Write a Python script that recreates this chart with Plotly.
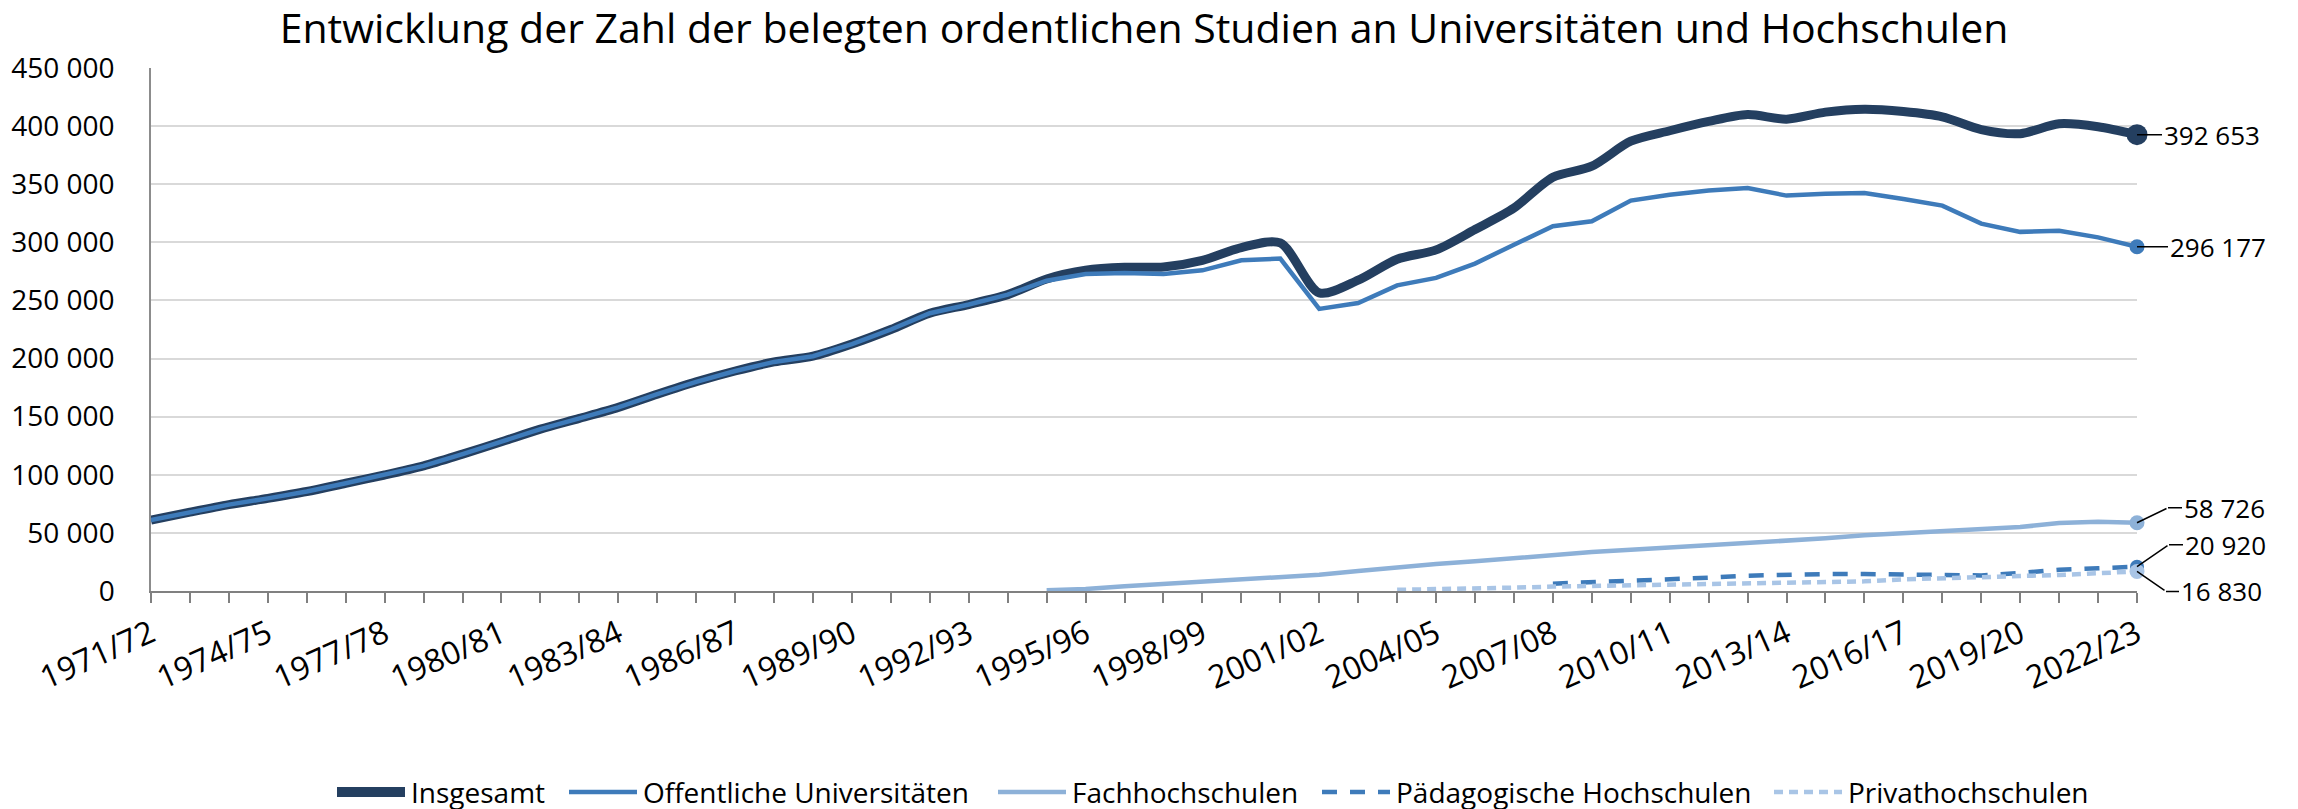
import plotly.graph_objects as go

# Studienjahre (Kategorien der x-Achse)
studienjahre = [
    "1971/72", "1972/73", "1973/74", "1974/75", "1975/76", "1976/77", "1977/78",
    "1978/79", "1979/80", "1980/81", "1981/82", "1982/83", "1983/84", "1984/85",
    "1985/86", "1986/87", "1987/88", "1988/89", "1989/90", "1990/91", "1991/92",
    "1992/93", "1993/94", "1994/95", "1995/96", "1996/97", "1997/98", "1998/99",
    "1999/00", "2000/01", "2001/02", "2002/03", "2003/04", "2004/05", "2005/06",
    "2006/07", "2007/08", "2008/09", "2009/10", "2010/11", "2011/12", "2012/13",
    "2013/14", "2014/15", "2015/16", "2016/17", "2017/18", "2018/19", "2019/20",
    "2020/21", "2021/22", "2022/23",
]

insgesamt = [
    61000, 67800, 74300, 79700, 85600, 92700, 99800, 107700, 117800, 128400,
    139300, 148500, 158000, 169300, 180000, 189300, 197100, 202000, 212500, 225000,
    239000, 246500, 255000, 268500, 276000, 278500, 278800, 284500, 295500, 299500,
    256500, 267500, 285500, 293500, 311000, 329500, 356000, 365500, 387000, 396000,
    404000, 410000, 406000, 412000, 414500, 412500, 408000, 397000, 393500, 402000,
    399500, 392653,
]

oeffentliche_unis = [
    61000, 67800, 74300, 79700, 85600, 92700, 99800, 107700, 117800, 128400,
    139300, 148500, 158000, 169300, 180000, 189300, 197100, 202000, 212500, 225000,
    239000, 246500, 255000, 267000, 272800, 273700, 272800, 275900, 284500, 286000,
    242700, 247800, 263000, 269400, 281700, 298000, 313800, 318100, 335900, 341000,
    344500, 346800, 340200, 341900, 342500, 337300, 331600, 316100, 309000, 310000,
    304300, 296177,
]

fachhochschulen = [None] * 23 + [
    700, 1700, 4000, 6000, 7700, 9500, 11400, 14000, 17200, 20600,
    23200, 25500, 28400, 31200, 33500, 35500, 37300, 39000, 41000, 43300,
    45300, 47900, 49900, 51300, 53300, 55000, 58500, 59500, 58726,
]

paedagogische_hs = [None] * 36 + [
    6300, 7400, 8600, 10000, 11400, 13200, 14300, 14600, 14600, 14000,
    13400, 13400, 15500, 18300, 19500, 20920,
]

privathochschulen = [None] * 32 + [
    1000, 1400, 2300, 2900, 3800, 4300, 4600, 5400, 6000, 6300,
    6500, 7100, 8300, 10000, 10800, 11400, 12300, 13800, 15300, 16830,
]

DUNKEL = "#243F60"
MITTEL = "#3E7BBA"
HELL = "#8DB1D8"
HELL2 = "#A9C5E6"

# die Seite hat 8px Rand (body margin) -> Figur entsprechend verschoben
RAND = 8
W, H = 2298 - RAND, 809 - RAND
# Plotbereich in Pixeln innerhalb der Figur
PLOT_L, PLOT_R, PLOT_T, PLOT_B = 151 - RAND, 2137 - RAND, 68 - RAND, 591 - RAND


def px_to_paper(px, py):
    return (px - PLOT_L) / (PLOT_R - PLOT_L), (PLOT_B - py) / (PLOT_B - PLOT_T)


fig = go.Figure()

# name, werte, farbe, breite, strich, form, markergrösse, legenden-x (px)
series = [
    ("Insgesamt", insgesamt, DUNKEL, 9, "solid", "spline", 21, 337),
    ("Offentliche Universitäten", oeffentliche_unis, MITTEL, 4.5, "solid", "linear", 15, 569),
    ("Fachhochschulen", fachhochschulen, HELL, 4.5, "solid", "linear", 15, 998),
    ("Pädagogische Hochschulen", paedagogische_hs, MITTEL, 4.5, "15px,13px", "linear", 14, 1322),
    ("Privathochschulen", privathochschulen, HELL2, 4.5, "9px,6px", "linear", 15, 1774),
]

for name, values, color, width, dash, shape, _, _ in series:
    fig.add_trace(
        go.Scatter(
            x=studienjahre,
            y=values,
            name=name,
            mode="lines",
            line=dict(color=color, width=width, dash=dash, shape=shape, smoothing=0.8),
            connectgaps=False,
        )
    )

# Endpunkte
for name, values, color, width, dash, shape, msize, _ in series:
    fig.add_trace(
        go.Scatter(
            x=[studienjahre[-1]],
            y=[values[-1]],
            mode="markers",
            marker=dict(color=color, size=msize),
            showlegend=False,
            cliponaxis=False,
            hoverinfo="skip",
        )
    )

# Legende von Hand (Linie + Text), Positionen wie im Original
LEG_Y = 792 - RAND
for name, values, color, width, dash, shape, msize, lx in series:
    lx = lx - RAND
    x0, y0 = px_to_paper(lx, LEG_Y)
    x1, _ = px_to_paper(lx + 68, LEG_Y)
    fig.add_shape(
        type="line",
        xref="paper",
        yref="paper",
        x0=x0,
        x1=x1,
        y0=y0,
        y1=y0,
        line=dict(color=color, width=width + 1 if width > 5 else width, dash=dash),
    )
    tx, _ = px_to_paper(lx + 72, LEG_Y)
    fig.add_annotation(
        xref="paper",
        yref="paper",
        x=tx,
        y=y0,
        text=name,
        showarrow=False,
        xanchor="left",
        yanchor="middle",
        font=dict(size=28, color="black"),
    )

# Beschriftungen am Ende: (Wert, Knick dx, Knick dy nach oben, waagrechte Länge)
end_labels = [
    (insgesamt[-1], 0, 0, 25),
    (oeffentliche_unis[-1], 0, 0, 31),
    (fachhochschulen[-1], 31, 15, 14),
    (paedagogische_hs[-1], 32, 22, 14),
    (privathochschulen[-1], 29, -20, 13),
]

leader = dict(arrowhead=0, arrowwidth=1.5, arrowcolor="black", standoff=0, startstandoff=0)

for value, kx, ky, hlen in end_labels:
    if kx or ky:
        fig.add_annotation(
            x=studienjahre[-1],
            y=value,
            text="",
            showarrow=True,
            axref="pixel",
            ayref="pixel",
            ax=kx,
            ay=-ky,
            **leader,
        )
    fig.add_annotation(
        x=studienjahre[-1],
        y=value,
        xshift=kx,
        yshift=ky,
        text=f"{value:,}".replace(",", " "),
        showarrow=True,
        axref="pixel",
        ayref="pixel",
        ax=hlen,
        ay=0,
        xanchor="left",
        yanchor="middle",
        font=dict(size=26, color="black"),
        **leader,
    )

ticktext = [s if i % 3 == 0 else "" for i, s in enumerate(studienjahre)]

fig.update_layout(
    width=W,
    height=H,
    margin=dict(l=PLOT_L, r=W - PLOT_R, t=PLOT_T, b=H - PLOT_B),
    plot_bgcolor="white",
    paper_bgcolor="white",
    font=dict(family="Open Sans", size=28, color="black"),
    separators=", ",
    title=dict(
        text="Entwicklung der Zahl der belegten ordentlichen Studien an Universitäten und Hochschulen",
        x=0.5,
        xref="paper",
        xanchor="center",
        y=1 - 21 / H,
        yanchor="middle",
        font=dict(size=41, color="black"),
    ),
    showlegend=False,
)

fig.update_xaxes(
    type="category",
    range=[0, len(studienjahre) - 1],
    tickvals=studienjahre,
    ticktext=ticktext,
    tickangle=-24,
    tickfont=dict(size=32),
    ticks="outside",
    ticklen=10,
    tickwidth=1.5,
    tickcolor="#808080",
    showline=True,
    linecolor="#808080",
    linewidth=2,
    showgrid=False,
    zeroline=False,
    automargin=False,
)

fig.update_yaxes(
    range=[0, 450000],
    dtick=50000,
    tickformat=",d",
    tickfont=dict(size=28),
    showline=True,
    linecolor="#8C8C8C",
    linewidth=1.5,
    showgrid=True,
    gridcolor="#D9D9D9",
    gridwidth=1.5,
    zeroline=False,
    ticks="",
    ticklabelstandoff=29,
    automargin=False,
)

fig.write_html("out.html")
